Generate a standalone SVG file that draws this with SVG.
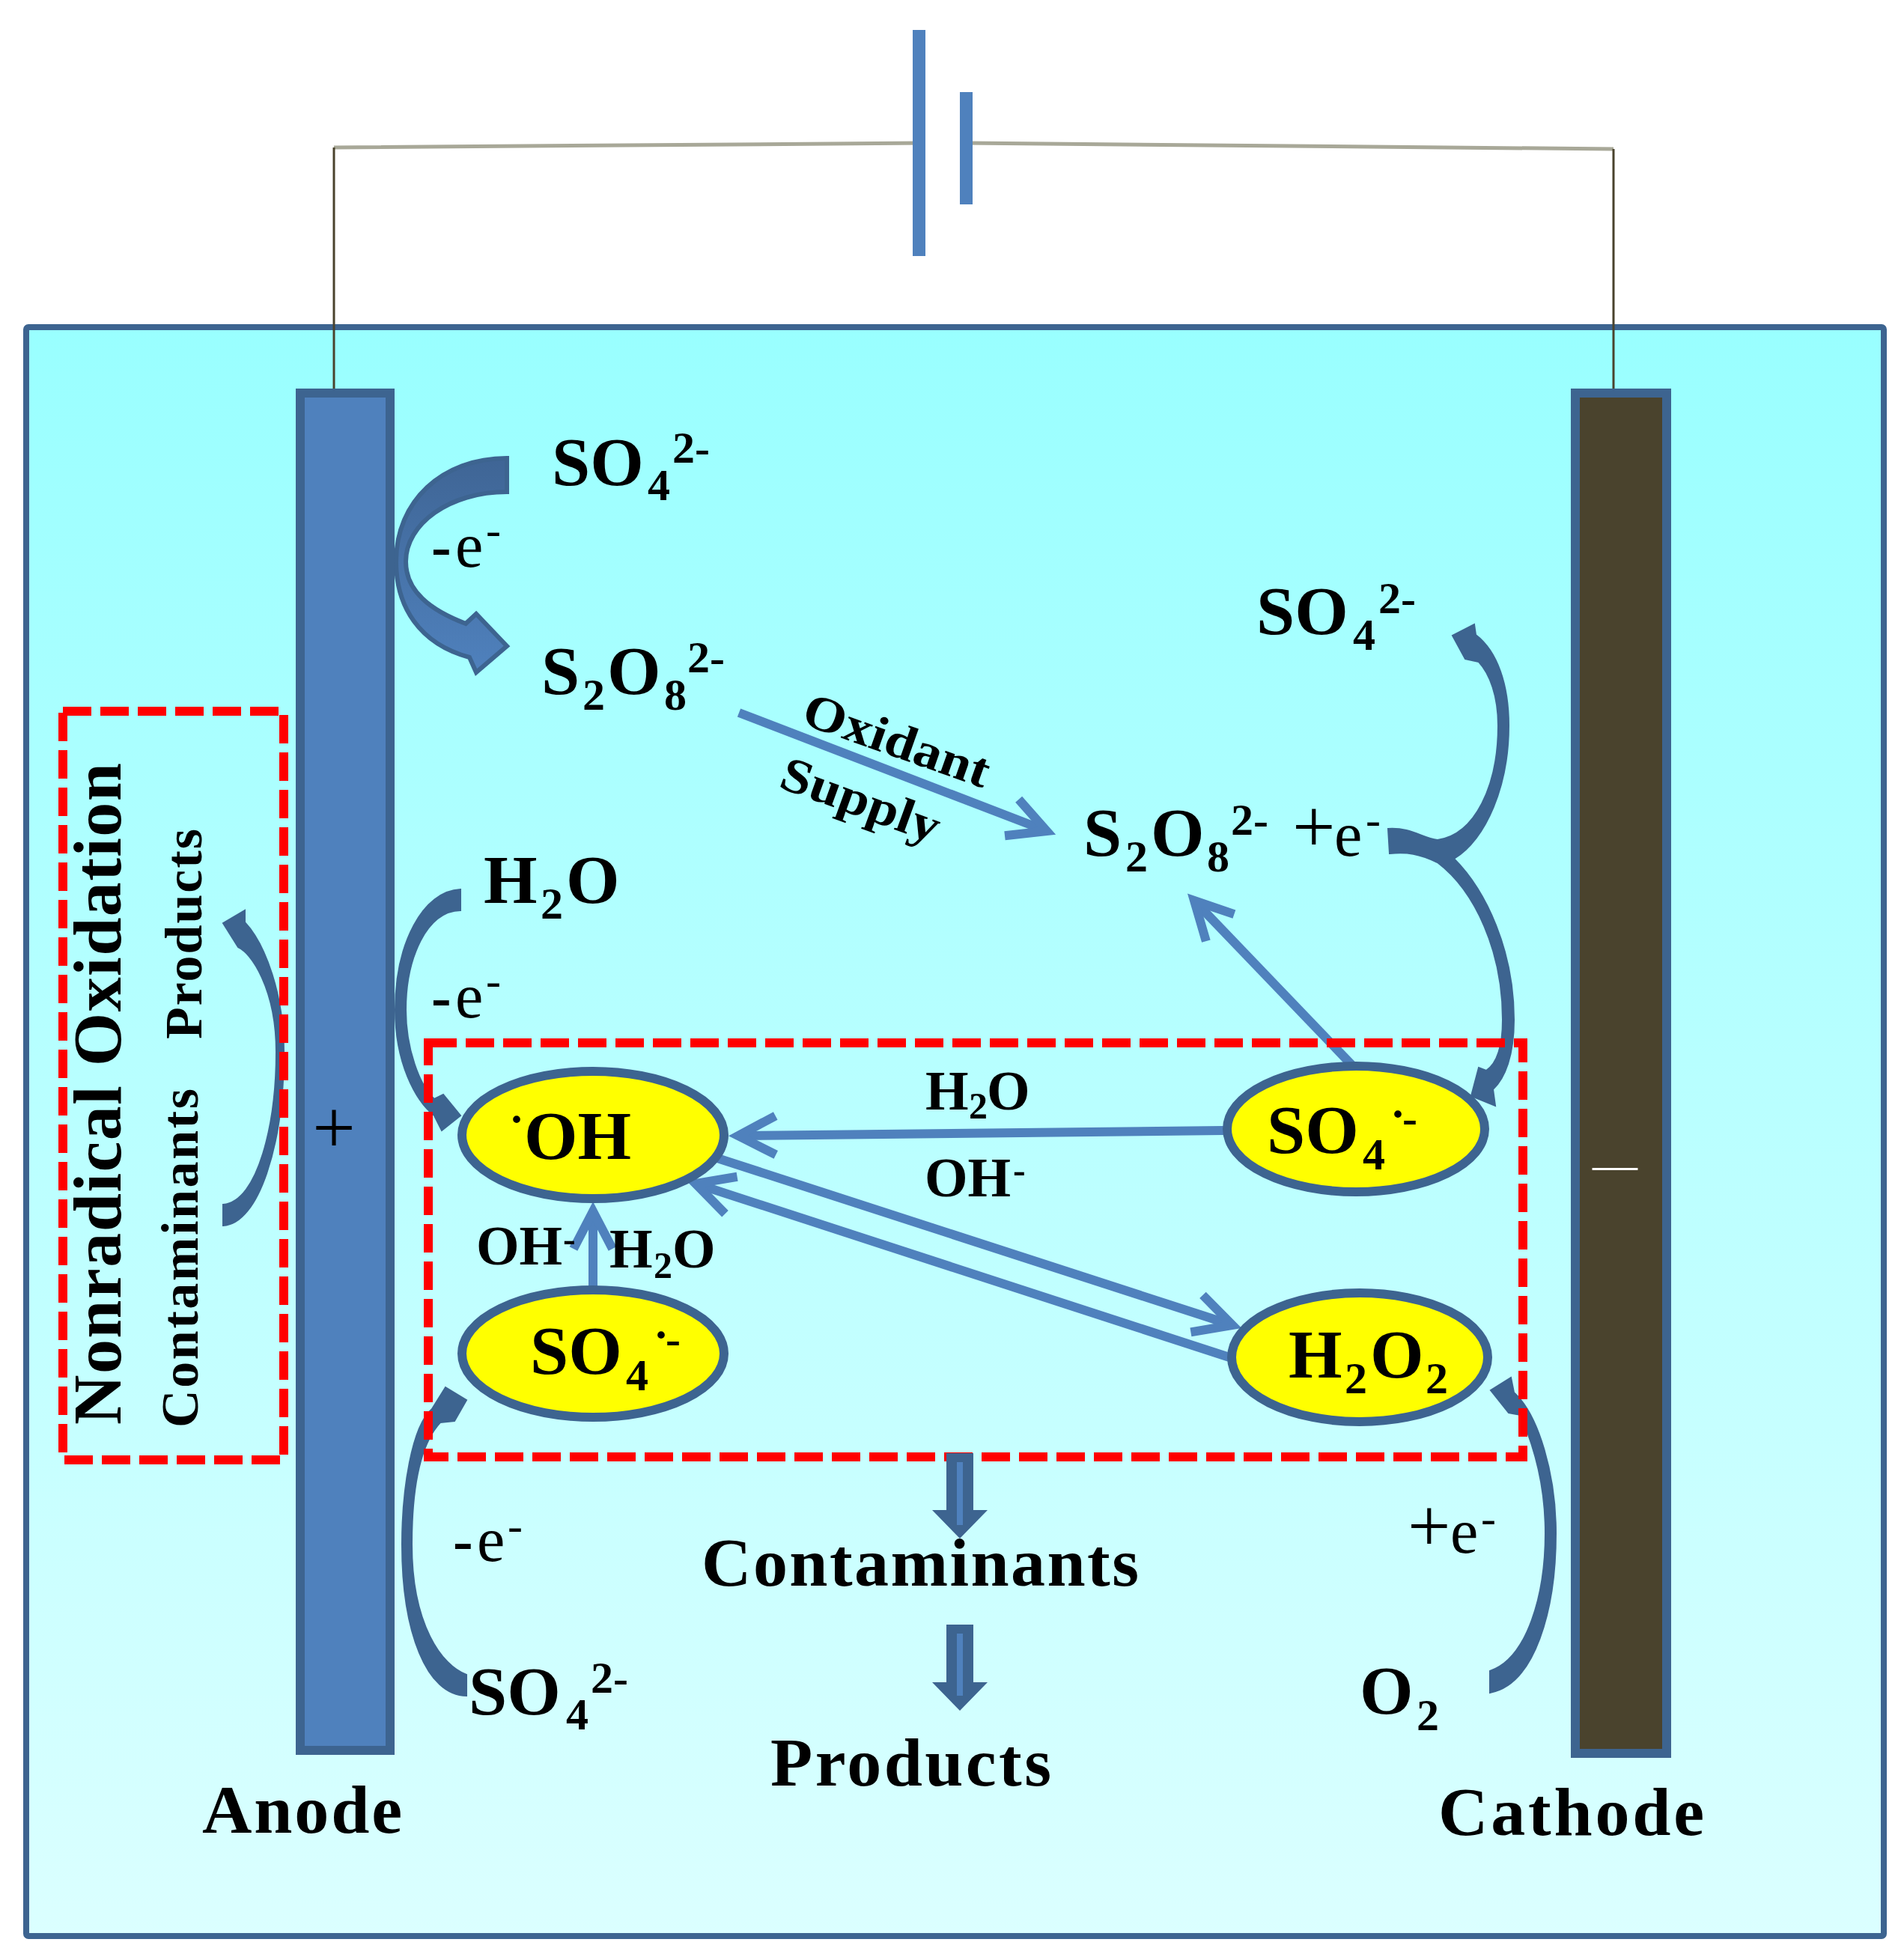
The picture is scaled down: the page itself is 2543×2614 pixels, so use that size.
<svg xmlns="http://www.w3.org/2000/svg" width="2543" height="2614" viewBox="0 0 2543 2614">
<defs>
<linearGradient id="water" x1="0" y1="0" x2="0" y2="1"><stop offset="0" stop-color="#99ffff"/><stop offset="1" stop-color="#dbffff"/></linearGradient>
<linearGradient id="blk" x1="0" y1="0" x2="0" y2="1"><stop offset="0" stop-color="#3f6595"/><stop offset="1" stop-color="#4f81bd"/></linearGradient>
<marker id="open" markerUnits="userSpaceOnUse" viewBox="-60 -40 80 80" refX="0" refY="0" markerWidth="80" markerHeight="80" orient="auto"><path d="M-50,-26 L0,0 L-50,26" fill="none" stroke="#4f81bd" stroke-width="12"/></marker>
</defs>
<style>
text{font-family:"Liberation Serif","Times New Roman",serif;fill:#000}
.b{font-weight:bold;font-size:92px}
.m{font-weight:bold;font-size:74px}
.ox{font-weight:bold;font-size:66px}
.r{font-size:84px}
.p{font-size:102px}
.h{font-size:80px;font-weight:bold}
.s{font-size:60px}
.t{font-size:50px}
.e{fill:#ffff00;stroke:#3d6490;stroke-width:12}
.dash{fill:none;stroke:#ff0000;stroke-width:12;stroke-dasharray:38 12}
.thin{fill:none;stroke:#4f81bd;stroke-width:12;marker-end:url(#open)}
.cv{fill:#3d6490;stroke:#3d6490;stroke-width:2}
.blk{fill:url(#blk);stroke:#3d6490;stroke-width:6}
.down{fill:#3d6490}
.core{fill:#4f81bd}
</style>
<g id="tank"><rect x="35" y="437" width="2481" height="2149" rx="3" fill="url(#water)" stroke="#3d6490" stroke-width="8"/></g>
<g id="battery">
<path d="M446,197L1232,191M1290,191L2155,199" fill="none" stroke="#a8a898" stroke-width="5"/>
<path d="M446,522V197M2155,199V522" fill="none" stroke="#4a432d" stroke-width="3"/>
<rect x="1219" y="40" width="17" height="302" fill="#4f81bd"/>
<rect x="1282" y="123" width="17" height="150" fill="#4f81bd"/>
</g>
<g id="anode"><rect x="401" y="525" width="120" height="1813" fill="#4f81bd" stroke="#3d6490" stroke-width="12"/><text x="446" y="1540" class="p" text-anchor="middle">+</text></g>
<g id="cathode"><rect x="2104" y="525" width="122" height="1817" fill="#4a432d" stroke="#3d6490" stroke-width="12"/><text x="2157" y="1575" style="font-size:60px;fill:#ffffff" text-anchor="middle">—</text></g>
<g id="connectors">
<path class="blk" d="M677,612 C590,612 529,670 529,750 C529,810 560,860 627,878 L636,898 L677,863 L636,820 L622,833 C575,815 542,790 542,750 C542,700 600,657 677,657 Z"/>
<path class="cv" d="M615,1188 C565,1190 528,1260 528,1349 C528,1420 555,1470 580,1490 L590,1510 L615,1490 L592,1462 L580,1468 C560,1450 542,1400 542,1349 C542,1280 570,1216 615,1216 Z"/>
<path class="cv" d="M298,1637 C345,1635 379,1530 379,1405 C379,1330 355,1262 327,1232 L327,1216 L298,1233 L318,1265 C335,1272 369,1320 369,1405 C369,1500 345,1605 298,1609 Z"/>
<path class="cv" d="M623,2237 C590,2225 550,2170 550,2063 C550,1990 560,1930 588,1900 L607,1898 L623,1870 L595,1853 L577,1882 C550,1905 537,1990 537,2063 C537,2180 570,2265 623,2265 Z"/>
<path class="cv" d="M1854,1107 C1885,1105 1900,1120 1920,1122 C1970,1115 2001,1050 2001,969 C2001,930 1990,900 1975,884 L1957,880 L1940,849 L1969,834 L1971,848 C2000,870 2015,915 2015,969 C2015,1050 1985,1120 1942,1147 C1985,1190 2022,1270 2022,1362 C2022,1410 2010,1440 1994,1455 L1997,1477 L1965,1464 L1975,1426 L1985,1430 C2000,1420 2007,1395 2007,1362 C2007,1270 1970,1190 1920,1152 C1895,1140 1880,1138 1856,1140 Z"/>
<path class="cv" d="M1990,2232 C2040,2215 2064,2130 2064,2048 C2064,1985 2050,1935 2031,1890 L2015,1887 L1991,1857 L2018,1840 L2022,1860 C2055,1890 2078,1970 2078,2048 C2078,2150 2050,2250 1990,2261 Z"/>
<path class="thin" d="M987,952L1398,1110"/>
<path class="thin" d="M1806,1423L1595,1203"/>
<path class="thin" d="M1634,1510L986,1517"/>
<path class="thin" d="M955,1546L1646,1770"/>
<path class="thin" d="M1642,1813L929,1581"/>
<path class="thin" d="M792,1722V1618"/>
</g>
<g id="box-nonradical"><rect x="84" y="950" width="295" height="1000" class="dash"/></g>
<g id="box-radical"><rect x="572" y="1393" width="1462" height="553" class="dash"/></g>
<g id="arrow-down-1"><path class="down" d="M1264,1941H1300V2017H1319L1282,2055L1245,2017H1264Z"/><rect class="core" x="1278" y="1953" width="8" height="84"/></g>
<g id="arrow-down-2"><path class="down" d="M1264,2170H1300V2247H1319L1282,2285L1245,2247H1264Z"/><rect class="core" x="1278" y="2182" width="8" height="83"/></g>
<g id="node-oh"><ellipse class="e" cx="792" cy="1516" rx="175" ry="85"/><text class="s" x="680" y="1515" font-weight="bold">·</text><text class="b" x="700" y="1548">OH</text></g>
<g id="node-so4-left"><ellipse class="e" cx="792" cy="1808" rx="175" ry="85"/><text class="b" x="708" y="1835">SO<tspan class="s" x="836" y="1857">4</tspan></text><text class="s" font-weight="bold" x="873" y="1803">·</text><text class="s" font-weight="bold" x="889" y="1808">-</text></g>
<g id="node-so4-right"><ellipse class="e" cx="1811" cy="1508" rx="172" ry="84"/><text class="b" x="1692" y="1540">SO<tspan class="s" x="1820" y="1562">4</tspan></text><text class="s" font-weight="bold" x="1857" y="1508">·</text><text class="s" font-weight="bold" x="1873" y="1513">-</text></g>
<g id="node-h2o2"><ellipse class="e" cx="1816" cy="1813" rx="171" ry="86"/><text class="b" x="1721" y="1840">H<tspan class="s" x="1796" y="1861">2</tspan><tspan x="1830" y="1840">O</tspan><tspan class="s" x="1904" y="1861">2</tspan></text></g>
<g id="labels">
<text class="b" x="737" y="648">SO<tspan class="s" x="865" y="668">4</tspan><tspan class="s" x="898" y="618">2-</tspan></text>
<text x="576" y="757"><tspan class="h">-</tspan><tspan class="r" x="608">e</tspan><tspan class="s" x="649" y="728">-</tspan></text>
<text class="b" x="723" y="927">S<tspan class="s" x="778" y="948">2</tspan><tspan x="811" y="927">O</tspan><tspan class="s" x="887" y="948">8</tspan><tspan class="s" x="918" y="898">2-</tspan></text>
<text class="ox" transform="translate(1068,966) rotate(19.5)" textLength="260" lengthAdjust="spacingAndGlyphs">Oxidant</text>
<text class="ox" transform="translate(1038,1051) rotate(20)" textLength="222" lengthAdjust="spacingAndGlyphs">Supply</text>
<text class="b" x="1447" y="1143">S<tspan class="s" x="1503" y="1164">2</tspan><tspan x="1537" y="1143">O</tspan><tspan class="s" x="1612" y="1164">8</tspan><tspan class="s" x="1644" y="1115">2-</tspan></text>
<text x="1726" y="1138"><tspan class="p">+</tspan><tspan class="r" x="1782" y="1143">e</tspan><tspan class="s" x="1824" y="1115">-</tspan></text>
<text class="b" x="1678" y="847">SO<tspan class="s" x="1807" y="868">4</tspan><tspan class="s" x="1841" y="819">2-</tspan></text>
<text class="b" x="646" y="1206">H<tspan class="s" x="722" y="1227">2</tspan><tspan x="756" y="1206">O</tspan></text>
<text x="576" y="1359"><tspan class="h">-</tspan><tspan class="r" x="608">e</tspan><tspan class="s" x="649" y="1330">-</tspan></text>
<text class="m" x="1236" y="1482">H<tspan class="t" x="1294" y="1494">2</tspan><tspan x="1318" y="1482">O</tspan></text>
<text class="m" x="1235" y="1598">OH<tspan class="t" x="1353" y="1580">-</tspan></text>
<text class="m" x="636" y="1689">OH<tspan class="t" x="752" y="1672">-</tspan></text>
<text class="m" x="814" y="1693">H<tspan class="t" x="873" y="1707">2</tspan><tspan x="898" y="1693">O</tspan></text>
<text class="b" x="626" y="2290">SO<tspan class="s" x="756" y="2310">4</tspan><tspan class="s" x="789" y="2261">2-</tspan></text>
<text x="605" y="2085"><tspan class="h">-</tspan><tspan class="r" x="637">e</tspan><tspan class="s" x="678" y="2058">-</tspan></text>
<text x="1880" y="2072"><tspan class="p">+</tspan><tspan class="r" x="1937" y="2074">e</tspan><tspan class="s" x="1978" y="2048">-</tspan></text>
<text class="b" x="1816" y="2289">O<tspan class="s" x="1892" y="2311">2</tspan></text>
<text class="b" x="937" y="2118" textLength="584">Contaminants</text>
<text class="b" x="1029" y="2385" textLength="375">Products</text>
<text class="b" x="270" y="2448" textLength="267">Anode</text>
<text class="b" x="1921" y="2451" textLength="355">Cathode</text>
<text class="b" transform="translate(161,1903) rotate(-90)" textLength="884">Nonradical Oxidation</text>
<text class="b" style="font-size:70px" transform="translate(264,1907) rotate(-90)" textLength="453">Contaminants</text>
<text class="b" style="font-size:70px" transform="translate(269,1388) rotate(-90)" textLength="281">Products</text>
</g>
</svg>
